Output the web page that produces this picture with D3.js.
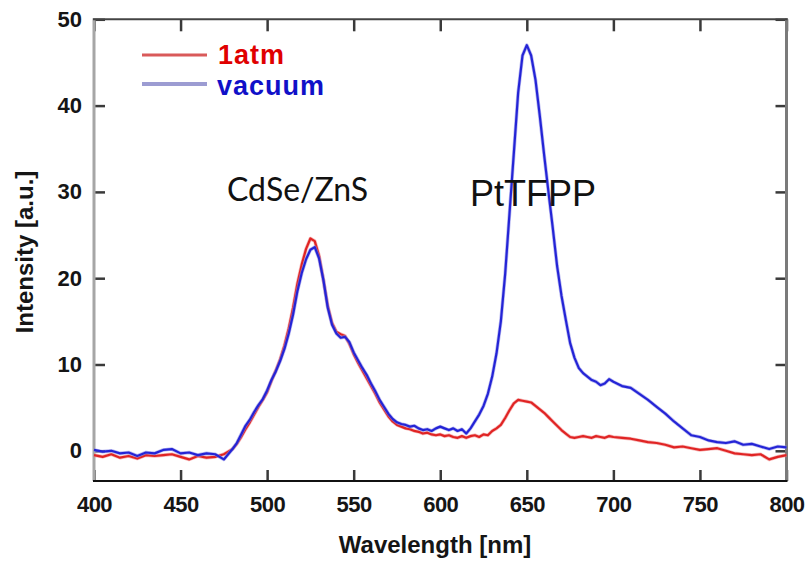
<!DOCTYPE html>
<html><head><meta charset="utf-8">
<script src="https://cdnjs.cloudflare.com/ajax/libs/d3/7.8.5/d3.min.js"></script>
<style>
html,body{margin:0;padding:0;background:#fff;}
svg{display:block;}
</style></head>
<body>
<svg id="chart" width="808" height="565"></svg>
<script>
const wavelengths = [400,405,410,415,420,425,430,435,440,445,450,455,460,465,470,475,480,
482.5,485,487.5,490,492.5,495,497.5,500,502.5,505,507.5,510,512.5,515,517.5,520,522.5,525,527.5,530,532.5,535,537.5,540,542.5,545,547.5,550,552.5,555,557.5,560,562.5,565,567.5,570,572.5,575,577.5,580,582.5,585,587.5,590,592.5,595,597.5,600,602.5,605,607.5,610,612.5,615,617.5,620,622.5,625,627.5,630,632.5,635,637.5,640,642.5,645,647.5,650,652.5,655,657.5,660,662.5,665,667.5,670,672.5,675,677.5,680,682.5,685,687.5,690,692.5,695,697.5,700,
705,710,715,720,725,730,735,740,745,750,755,760,765,770,775,780,785,790,795,800];

const vacuum = [0.1,-0.1,0.0,-0.3,-0.2,-0.6,-0.2,-0.3,0.1,0.2,-0.3,-0.2,-0.5,-0.3,-0.4,-1.0,0.2,
0.9,1.9,2.9,3.6,4.5,5.3,6.0,7.0,8.2,9.2,10.4,11.8,13.6,15.8,18.5,20.6,22.2,23.3,23.6,22.3,19.8,16.6,14.6,13.6,13.1,13.2,12.6,11.4,10.5,9.6,8.8,7.8,6.9,5.9,5.1,4.3,3.7,3.3,3.1,3.0,2.8,2.9,2.6,2.4,2.5,2.3,2.6,2.8,2.6,2.4,2.6,2.3,2.5,2.0,2.6,3.4,4.2,5.2,6.6,8.6,11.3,15.0,20.5,27.5,34.5,41.5,45.8,47.0,45.8,43.0,38.8,34.3,30.0,25.8,21.4,18.0,15.2,12.5,10.8,9.6,9.0,8.6,8.2,8.0,7.6,7.8,8.3,8.0,
7.5,7.3,6.6,5.9,5.1,4.3,3.4,2.6,1.8,1.6,1.2,1.0,0.9,1.1,0.7,0.8,0.5,0.2,0.5,0.4];

const atm1 = [-0.5,-0.7,-0.4,-0.8,-0.6,-0.9,-0.5,-0.6,-0.5,-0.4,-0.7,-1.0,-0.6,-0.8,-0.7,-0.4,0.2,
0.8,1.6,2.5,3.3,4.2,5.1,5.9,6.8,8.1,9.3,10.6,12.2,14.2,16.6,19.4,21.6,23.4,24.6,24.3,22.6,19.8,16.8,14.8,13.8,13.5,13.3,12.4,11.2,10.2,9.3,8.4,7.5,6.6,5.6,4.8,4.0,3.4,3.0,2.8,2.6,2.5,2.3,2.2,2.0,2.1,1.9,1.8,1.9,1.7,1.8,1.6,1.5,1.7,1.5,1.7,1.8,1.6,1.9,1.8,2.3,2.6,3.0,3.8,4.7,5.5,5.9,5.8,5.7,5.6,5.2,4.8,4.4,3.9,3.4,2.9,2.4,2.0,1.6,1.5,1.6,1.7,1.6,1.5,1.7,1.6,1.5,1.7,1.6,
1.5,1.4,1.2,1.0,0.9,0.7,0.4,0.5,0.3,0.1,0.2,0.3,0.0,-0.3,-0.4,-0.5,-0.4,-1.0,-0.7,-0.5];

const xTicks = [400,450,500,550,600,650,700,750,800];
const xTickLabels = ["400","450","500","550","600","650","700","750","800"];
const yTicks = [0,10,20,30,40,50];
const yTickLabels = ["0","10","20","30","40","50"];
const seriesNames = ["1atm","vacuum"];
const annotationTexts = ["CdSe/ZnS","PtTFPP"];

const svg = d3.select("#chart");
const L = 94, R = 786.5, T = 19.3, B = 481;
const x = d3.scaleLinear().domain([400,800]).range([L,R]);
const y = d3.scaleLinear().domain([-3.5,50]).range([B,T]);

// axes
const fontAxis = "'Liberation Sans', Arial, sans-serif";
const gB = svg.append("g").attr("transform",`translate(0,${B})`)
  .call(d3.axisBottom(x).tickValues(xTicks).tickFormat((d,i)=>xTickLabels[i]).tickSize(-11).tickSizeOuter(0).tickPadding(15));
const gL = svg.append("g").attr("transform",`translate(${L},0)`)
  .call(d3.axisLeft(y).tickValues(yTicks).tickFormat((d,i)=>yTickLabels[i]).tickSize(-11).tickSizeOuter(0).tickPadding(12));
const gT = svg.append("g").attr("transform",`translate(0,${T})`)
  .call(d3.axisTop(x).tickValues(xTicks).tickFormat("").tickSize(-12).tickSizeOuter(0));
const gR = svg.append("g").attr("transform",`translate(${R},0)`)
  .call(d3.axisRight(y).tickValues(yTicks).tickFormat("").tickSize(-11).tickSizeOuter(0));
[gB,gL,gT,gR].forEach(g=>{
  g.select(".domain").remove();
  g.selectAll(".tick line").attr("stroke","#3a3a3a").attr("stroke-width",2.5);
  g.selectAll(".tick text").attr("fill","#151515").style("font-family",fontAxis)
    .style("font-weight","bold").style("font-size","22px");
});
gB.selectAll(".tick text").attr("letter-spacing","-0.5px");

// frame
svg.append("line").attr("x1",L).attr("x2",L).attr("y1",T-1).attr("y2",B).attr("stroke","#a6a6a6").attr("stroke-width",3);
svg.append("line").attr("x1",R).attr("x2",R).attr("y1",T-1).attr("y2",B).attr("stroke","#7a7a7a").attr("stroke-width",3);
svg.append("line").attr("x1",L-1).attr("x2",R+1).attr("y1",T).attr("y2",T).attr("stroke","#444").attr("stroke-width",2);
svg.append("line").attr("x1",L-1).attr("x2",R+1).attr("y1",B).attr("y2",B).attr("stroke","#111").attr("stroke-width",2.2);

// lines
const line = d3.line().x((d,i)=>x(wavelengths[i])).y(d=>y(d));
const series = [{vals:atm1, color:"#e02424", halo:"#f08a8a"},{vals:vacuum, color:"#2424d6", halo:"#8a8ae8"}];
series.forEach(s=>{
  svg.append("path").datum(s.vals).attr("d",line).attr("fill","none")
    .attr("stroke",s.halo).attr("stroke-width",3.6).attr("stroke-linejoin","round").attr("opacity",0.6);
  svg.append("path").datum(s.vals).attr("d",line).attr("fill","none")
    .attr("stroke",s.color).attr("stroke-width",2.2).attr("stroke-linejoin","round");
});

// legend
const leg = svg.append("g");
leg.append("line").attr("x1",142).attr("x2",207).attr("y1",55).attr("y2",55).attr("stroke","#d95a5a").attr("stroke-width",3);
leg.append("line").attr("x1",142).attr("x2",207).attr("y1",84).attr("y2",84).attr("stroke","#9c9cd2").attr("stroke-width",4);
leg.append("text").attr("x",218).attr("y",64).text(seriesNames[0]).attr("letter-spacing","1px")
  .attr("fill","#e00000").style("font-family",fontAxis).style("font-weight","bold").style("font-size","27px");
leg.append("text").attr("x",217).attr("y",95).text(seriesNames[1]).attr("letter-spacing","1px")
  .attr("fill","#1010c8").style("font-family",fontAxis).style("font-weight","bold").style("font-size","27px");

// annotations
svg.append("text").attr("x",227).attr("y",201).text(annotationTexts[0])
  .attr("fill","#111").style("font-family","Lato, 'Open Sans', sans-serif").style("font-size","32px");
svg.append("text").attr("x",470).attr("y",206).text(annotationTexts[1])
  .attr("fill","#111").style("font-family",fontAxis).style("font-size","36px");

// axis titles
svg.append("text").attr("x",435).attr("y",553).attr("text-anchor","middle").text("Wavelength [nm]")
  .attr("fill","#151515").style("font-family",fontAxis).style("font-weight","bold").style("font-size","24px");
svg.append("text").attr("transform","translate(33,252) rotate(-90)").attr("text-anchor","middle").text("Intensity [a.u.]")
  .attr("fill","#151515").style("font-family",fontAxis).style("font-weight","bold").style("font-size","24px");
</script>
</body></html>
